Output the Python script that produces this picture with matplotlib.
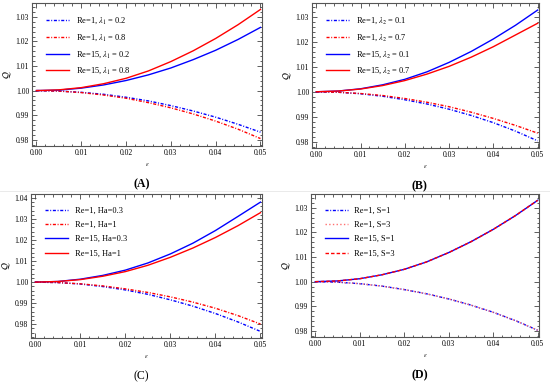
import numpy as np
import matplotlib.pyplot as plt
from matplotlib.ticker import AutoMinorLocator, MultipleLocator
from matplotlib.lines import Line2D

plt.rcParams['font.family'] = 'Liberation Serif'
plt.rcParams['mathtext.fontset'] = 'stix'

eps = [0.0, 0.005, 0.01, 0.015, 0.02, 0.025, 0.03, 0.035, 0.04, 0.045, 0.05]

# panel A: lambda_1
a_re1_l02 = [1.0000, 0.9998, 0.9993, 0.9985, 0.9973, 0.9958, 0.9939, 0.9917, 0.9892, 0.9863, 0.9831]
a_re1_l08 = [1.0000, 0.9998, 0.9992, 0.9982, 0.9969, 0.9951, 0.9930, 0.9905, 0.9876, 0.9843, 0.9805]
a_re15_l02 = [1.0000, 1.0002, 1.0010, 1.0023, 1.0041, 1.0064, 1.0092, 1.0126, 1.0164, 1.0208, 1.0257]
a_re15_l08 = [1.0000, 1.0003, 1.0012, 1.0028, 1.0050, 1.0080, 1.0118, 1.0162, 1.0212, 1.0268, 1.0330]

# panel B: lambda_2
b_re1_l01 = [1.0000, 0.9998, 0.9992, 0.9982, 0.9968, 0.9951, 0.9930, 0.9905, 0.9876, 0.9842, 0.9803]
b_re1_l07 = [1.0000, 0.9998, 0.9993, 0.9985, 0.9973, 0.9958, 0.9940, 0.9918, 0.9893, 0.9865, 0.9834]
b_re15_l01 = [1.0000, 1.0003, 1.0012, 1.0028, 1.0050, 1.0080, 1.0118, 1.0162, 1.0212, 1.0267, 1.0328]
b_re15_l07 = [1.0000, 1.0003, 1.0011, 1.0025, 1.0045, 1.0071, 1.0102, 1.0139, 1.0181, 1.0228, 1.0275]

# panel C: Ha
c_re1_ha03 = [1.0000, 0.9998, 0.9991, 0.9979, 0.9963, 0.9942, 0.9916, 0.9886, 0.9851, 0.9811, 0.9766]
c_re1_ha1 = [1.0000, 0.9998, 0.9992, 0.9982, 0.9968, 0.9951, 0.9930, 0.9905, 0.9876, 0.9841, 0.9801]
c_re15_ha03 = [1.0000, 1.0003, 1.0014, 1.0032, 1.0057, 1.0091, 1.0134, 1.0185, 1.0245, 1.0312, 1.0380]
c_re15_ha1 = [1.0000, 1.0003, 1.0012, 1.0028, 1.0050, 1.0080, 1.0118, 1.0162, 1.0212, 1.0268, 1.0330]

# panel D: S
d_re1_s1 = [1.0000, 0.9998, 0.9992, 0.9982, 0.9968, 0.9951, 0.9930, 0.9905, 0.9876, 0.9842, 0.9803]
d_re1_s3 = [1.0000, 0.9998, 0.9992, 0.9982, 0.9968, 0.9951, 0.9930, 0.9905, 0.9876, 0.9842, 0.9803]
d_re15_s1 = [1.0000, 1.0003, 1.0012, 1.0028, 1.0050, 1.0080, 1.0118, 1.0162, 1.0212, 1.0268, 1.0330]
d_re15_s3 = [1.0000, 1.0003, 1.0012, 1.0028, 1.0050, 1.0080, 1.0118, 1.0162, 1.0212, 1.0268, 1.0330]

dashdot = (0, (2.2, 1.2, 0.7, 1.2))

fig = plt.figure(figsize=(5.5, 3.84), dpi=100)

boxes = {
    'A': [0.058, 0.620, 0.418, 0.372],
    'B': [0.567, 0.615, 0.413, 0.377],
    'C': [0.056, 0.120, 0.420, 0.375],
    'D': [0.565, 0.122, 0.415, 0.373],
}

panels = {
    'A': [(a_re1_l02, 'blue', dashdot, r'Re=1, $\lambda_1$ = 0.2'),
          (a_re1_l08, 'red', dashdot, r'Re=1, $\lambda_1$ = 0.8'),
          (a_re15_l02, 'blue', '-', r'Re=15, $\lambda_1$ = 0.2'),
          (a_re15_l08, 'red', '-', r'Re=15, $\lambda_1$ = 0.8')],
    'B': [(b_re1_l01, 'blue', dashdot, r'Re=1, $\lambda_2$ = 0.1'),
          (b_re1_l07, 'red', dashdot, r'Re=1, $\lambda_2$ = 0.7'),
          (b_re15_l01, 'blue', '-', r'Re=15, $\lambda_2$ = 0.1'),
          (b_re15_l07, 'red', '-', r'Re=15, $\lambda_2$ = 0.7')],
    'C': [(c_re1_ha03, 'blue', dashdot, 'Re=1, Ha=0.3'),
          (c_re1_ha1, 'red', dashdot, 'Re=1, Ha=1'),
          (c_re15_ha03, 'blue', '-', 'Re=15, Ha=0.3'),
          (c_re15_ha1, 'red', '-', 'Re=15, Ha=1')],
    'D': [(d_re1_s1, 'blue', dashdot, 'Re=1, S=1'),
          (d_re1_s3, '#ff7070', ':', 'Re=1, S=3'),
          (d_re15_s1, 'blue', '-', 'Re=15, S=1'),
          (d_re15_s3, 'red', (0, (2.5, 1.5)), 'Re=15, S=3')],
}

ylims = {'A': (0.9775, 1.0356), 'B': (0.9775, 1.0356),
         'C': (0.9735, 1.0419), 'D': (0.9775, 1.0356)}
labels = {'A': ('(A)', 'bold'), 'B': ('(B)', 'bold'),
          'C': ('(C)', 'normal'), 'D': ('(D)', 'bold')}

for key, box in boxes.items():
    ax = fig.add_axes(box)
    for vals, col, ls, lab in panels[key]:
        ax.plot(eps, vals, color=col, ls=ls, lw=1.0, label=lab)
    ax.set_xlim(-0.001, 0.0503)
    ax.set_ylim(*ylims[key])
    ax.xaxis.set_major_locator(MultipleLocator(0.01))
    ax.yaxis.set_major_locator(MultipleLocator(0.01))
    ax.xaxis.set_minor_locator(AutoMinorLocator(5))
    ax.yaxis.set_minor_locator(AutoMinorLocator(5))
    ax.xaxis.set_major_formatter(lambda v, p: f'{v:.2f}')
    ax.yaxis.set_major_formatter(lambda v, p: f'{v:.2f}')
    ax.tick_params(which='both', direction='in', top=True, right=True,
                   labelsize=5.5, color='#444444', width=0.6, pad=2)
    ax.tick_params(which='major', length=3.5)
    ax.tick_params(which='minor', length=1.8)
    for s in ax.spines.values():
        s.set_color('#555555')
        s.set_linewidth(0.8)
    ax.set_xlabel(r'$\epsilon$', fontsize=4.5, labelpad=3)
    ax.set_ylabel(r'$\mathcal{Q}$', fontsize=7, labelpad=2)
    ax.legend(loc='upper left', frameon=False, fontsize=6,
              handlelength=2.7, labelspacing=0.75, borderaxespad=0.8,
              bbox_to_anchor=(0.02, 0.98))
    text, weight = labels[key]
    fig.text(box[0] + box[2] / 2 - 0.01, box[1] - 0.10, text,
             ha='center', va='center', fontsize=8.5, fontweight=weight)

fig.add_artist(Line2D([0, 1], [0.503, 0.503], color='#e6e6e6', lw=0.6))

fig.savefig('out.png', dpi=100)
